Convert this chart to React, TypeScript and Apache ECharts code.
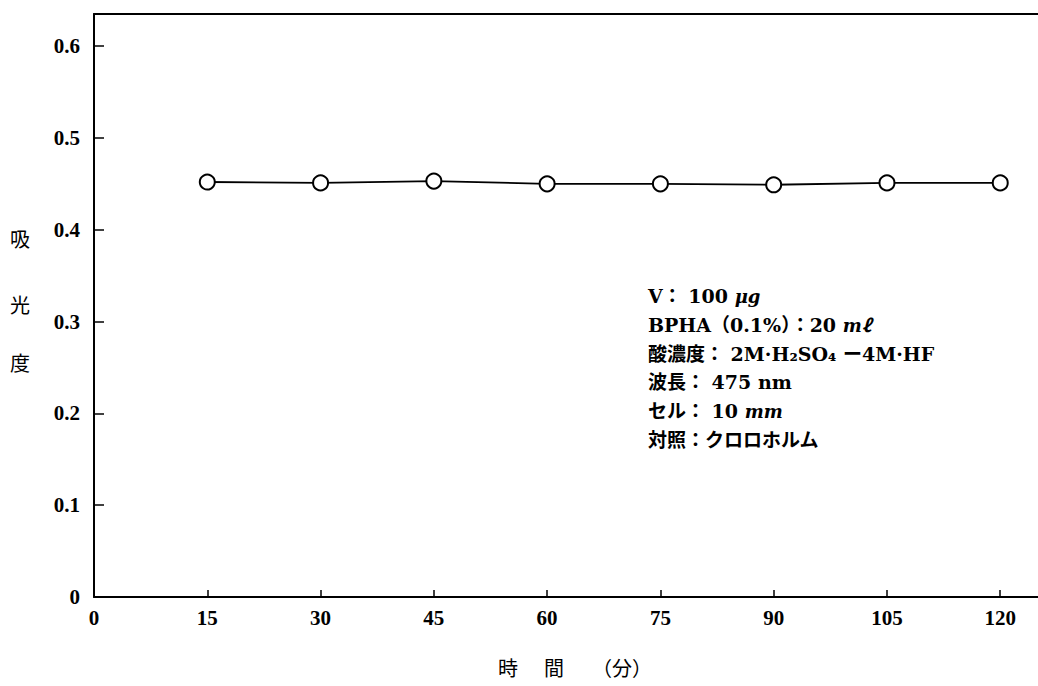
import React, { useEffect, useRef } from "react";
import * as echarts from "echarts";

const xTimes = [15, 30, 45, 60, 75, 90, 105, 120];
const absorbance = [0.452, 0.451, 0.453, 0.45, 0.45, 0.449, 0.451, 0.451];
const yTitleChars = ["吸", "光", "度"];
const xTitleParts = ["時", "間", "（分）"];
const noteLines = [
  "V： 100 {i|μg}",
  "BPHA（0.1%）：20 {i|mℓ}",
  "酸濃度： 2M·H₂SO₄ ー4M·HF",
  "波長： 475 nm",
  "セル： 10 {i|mm}",
  "対照：クロロホルム",
];

const SERIF = "'Liberation Serif', 'Noto Sans CJK JP', serif";
const NOTE_FONT = "'DejaVu Serif', 'Noto Sans CJK JP', serif";

export default function App() {
  const ref = useRef<HTMLDivElement>(null);
  useEffect(() => {
    document.body.style.margin = "0";
    const chart = echarts.init(ref.current!, null, { renderer: "svg" });
    const yTitlePos = [240, 306, 364];
    const xTitlePos = [508, 554, 622];
    const noteY = [296, 325, 354, 382, 411, 440];
    chart.setOption({
      animation: false,
      backgroundColor: "#fff",
      grid: { left: 94, right: 0, top: 14, bottom: 89 },
      xAxis: [
        {
          type: "value",
          min: 0,
          max: 125,
          interval: 15,
          axisLine: { show: true, lineStyle: { color: "#000", width: 2 } },
          axisTick: { show: true, inside: true, length: 7, lineStyle: { color: "#000", width: 1.5 } },
          axisLabel: {
            color: "#000",
            fontFamily: SERIF,
            fontWeight: "bold",
            fontSize: 21,
            margin: 10,
            showMaxLabel: false,
            formatter: (v: number) => (v % 15 === 0 ? String(v) : ""),
          },
          splitLine: { show: false },
        },
        {
          type: "value",
          position: "top",
          min: 0,
          max: 125,
          axisLine: { show: true, lineStyle: { color: "#000", width: 2 } },
          axisTick: { show: false },
          axisLabel: { show: false },
          splitLine: { show: false },
        },
      ],
      yAxis: {
        type: "value",
        min: 0,
        max: 0.635,
        interval: 0.1,
        axisLine: { show: true, lineStyle: { color: "#000", width: 2 } },
        axisTick: { show: true, inside: true, length: 10, lineStyle: { color: "#000", width: 1.5 } },
        axisLabel: {
          color: "#000",
          fontFamily: SERIF,
          fontWeight: "bold",
          fontSize: 21,
          margin: 14,
          showMaxLabel: false,
          formatter: (v: number) => (v === 0 ? "0" : v.toFixed(1)),
        },
        splitLine: { show: false },
      },
      series: [
        {
          type: "line",
          data: xTimes.map((x, i) => [x, absorbance[i]]),
          symbol: "circle",
          symbolSize: 15,
          itemStyle: { color: "#fff", borderColor: "#000", borderWidth: 2 },
          lineStyle: { color: "#000", width: 1.8 },
        },
      ],
      graphic: [
        ...yTitleChars.map((c, i) => ({
          type: "text",
          x: 20,
          y: yTitlePos[i],
          style: {
            text: c,
            fontFamily: SERIF,
            fontSize: 20,
            fill: "#000",
            align: "center",
            verticalAlign: "middle",
          },
        })),
        ...xTitleParts.map((c, i) => ({
          type: "text",
          x: xTitlePos[i],
          y: 669,
          style: {
            text: c,
            fontFamily: SERIF,
            fontSize: 20,
            fill: "#000",
            align: "center",
            verticalAlign: "middle",
          },
        })),
        ...noteLines.map((t, i) => ({
          type: "text",
          x: 648,
          y: noteY[i],
          style: {
            text: t,
            fontFamily: NOTE_FONT,
            fontWeight: "bold",
            fontSize: 19,
            fill: "#000",
            align: "left",
            verticalAlign: "middle",
            rich: {
              i: {
                fontFamily: NOTE_FONT,
                fontStyle: "italic",
                fontWeight: "bold",
                fontSize: 18,
                fill: "#000",
              },
            },
          },
        })),
      ],
    });
    return () => chart.dispose();
  }, []);
  return <div ref={ref} style={{ width: 1038, height: 686 }} />;
}
